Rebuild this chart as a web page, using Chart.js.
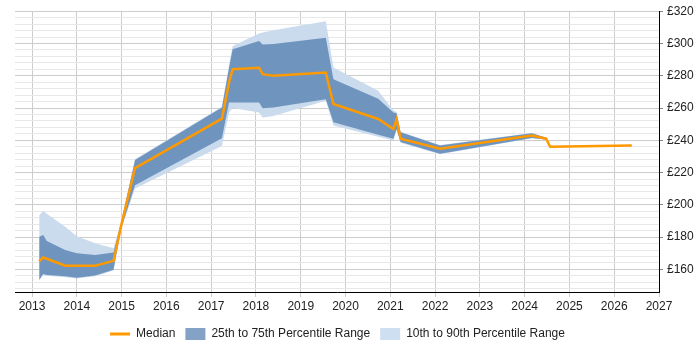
<!DOCTYPE html>
<html><head><meta charset="utf-8">
<script src="https://cdn.jsdelivr.net/npm/chart.js@4.4.0/dist/chart.umd.min.js"></script>
<style>html,body{margin:0;padding:0;background:#fff;}#wrap{width:700px;height:350px;}</style>
</head><body><div id="wrap"><canvas id="c" width="700" height="350"></canvas></div>
<script>
const dates  = [2013.16, 2013.25, 2013.33, 2013.74, 2014.00, 2014.41, 2014.82, 2014.99, 2015.30, 2017.24, 2017.40, 2017.48, 2018.07, 2018.15, 2018.39, 2019.56, 2019.73, 2020.73, 2021.07, 2021.14, 2021.23, 2022.11, 2024.16, 2024.48, 2024.57, 2026.39];
const median = [165.0, 167.4, 166.6, 162.3, 162.3, 162.3, 165.3, 187.0, 222.8, 253.4, 276.0, 284.0, 285.0, 281.0, 280.0, 282.0, 262.5, 253.2, 247.0, 253.0, 241.0, 234.8, 243.0, 241.0, 236.0, 236.8];
const p75    = [180.3, 181.3, 177.6, 172.1, 170.0, 169.0, 170.5, 189.0, 227.8, 260.4, 285.0, 296.4, 301.5, 299.4, 299.6, 303.5, 277.9, 265.8, 257.3, 256.7, 245.0, 236.8, 244.4, 241.6, 236.3, 237.1];
const p25    = [153.6, 157.1, 156.5, 155.7, 154.8, 156.3, 159.8, 185.5, 212.2, 241.3, 263.5, 263.5, 263.5, 259.8, 260.3, 265.5, 251.2, 243.5, 240.9, 247.0, 238.9, 231.6, 241.5, 240.5, 235.7, 236.5];
const p90    = [193.6, 196.2, 194.5, 186.5, 180.5, 176.2, 173.1, 189.5, 228.2, 260.8, 287.0, 298.4, 306.2, 306.8, 308.2, 313.8, 285.1, 270.7, 258.5, 257.5, 245.3, 237.1, 244.6, 241.8, 236.4, 237.2];
const p10    = [153.0, 156.5, 156.0, 155.2, 154.4, 155.8, 159.3, 184.5, 210.1, 236.4, 257.3, 260.0, 257.3, 254.2, 255.0, 264.5, 249.1, 242.2, 239.9, 246.5, 238.5, 231.3, 241.3, 240.3, 235.6, 236.4];
const xTickYears = [2013, 2014, 2015, 2016, 2017, 2018, 2019, 2020, 2021, 2022, 2023, 2024, 2025, 2026, 2027];
const yLabelValues = [160, 180, 200, 220, 240, 260, 280, 300, 320];
const yGridValues = [148, 152, 156, 160, 164, 168, 172, 176, 180, 184, 188, 192, 196, 200, 204, 208, 212, 216, 220, 224, 228, 232, 236, 240, 244, 248, 252, 256, 260, 264, 268, 272, 276, 280, 284, 288, 292, 296, 300, 304, 308, 312, 316, 320];
const seriesNames = ['Median', '25th to 75th Percentile Range', '10th to 90th Percentile Range'];

const pts = arr => arr.map((v, i) => ({x: dates[i], y: v}));
const C_MED = '#ff9900', C_DARK = '#6f95bf', C_LIGHT = '#cadbee';
const L_DARK = '#84a2c6', L_LIGHT = '#cddff0';

const shiftLegend = {
  id: 'shiftLegend',
  afterLayout(chart) {
    const lg = chart.legend;
    if (lg) { lg.left -= 20; lg.right -= 20; }
  }
};

new Chart(document.getElementById('c'), {
  type: 'line',
  plugins: [shiftLegend],
  data: {
    datasets: [
      {label: seriesNames[0], data: pts(median), borderColor: C_MED, borderWidth: 2.5, pointRadius: 0, fill: false, tension: 0},
      {label: seriesNames[1], data: pts(p75), borderWidth: 0, borderColor: 'rgba(0,0,0,0)', backgroundColor: C_DARK, pointRadius: 0, fill: '+1', tension: 0},
      {label: 'p25', data: pts(p25), borderWidth: 0, borderColor: 'rgba(0,0,0,0)', pointRadius: 0, fill: false, tension: 0},
      {label: seriesNames[2], data: pts(p90), borderWidth: 0, borderColor: 'rgba(0,0,0,0)', backgroundColor: C_LIGHT, pointRadius: 0, fill: '+1', tension: 0},
      {label: 'p10', data: pts(p10), borderWidth: 0, borderColor: 'rgba(0,0,0,0)', pointRadius: 0, fill: false, tension: 0}
    ]
  },
  options: {
    responsive: false,
    animation: false,
    devicePixelRatio: 1,
    layout: {padding: {left: 15, right: 0, top: 3, bottom: 0}},
    plugins: {
      tooltip: {enabled: false},
      legend: {
        position: 'bottom',
        labels: {
          usePointStyle: true, pointStyleWidth: 20, boxHeight: 12, padding: 10,
          color: '#222', font: {family: 'Liberation Sans, Arial, sans-serif', size: 12},
          generateLabels: () => [
            {text: seriesNames[0], pointStyle: 'line', strokeStyle: C_MED, fillStyle: C_MED, lineWidth: 3, datasetIndex: 0, fontColor: '#222'},
            {text: seriesNames[1], pointStyle: 'rect', strokeStyle: L_DARK, fillStyle: L_DARK, lineWidth: 0, datasetIndex: 1, fontColor: '#222'},
            {text: seriesNames[2], pointStyle: 'rect', strokeStyle: L_LIGHT, fillStyle: L_LIGHT, lineWidth: 0, datasetIndex: 3, fontColor: '#222'}
          ]
        }
      }
    },
    scales: {
      x: {
        type: 'linear', min: 2012.62, max: 2027,
        afterBuildTicks: s => { s.ticks = xTickYears.map(v => ({value: v})); },
        afterFit: s => { s.height = 26; },
        ticks: {autoSkip: false, maxRotation: 0, padding: 2, color: '#222', font: {family: 'Liberation Sans, Arial, sans-serif', size: 12}, callback: v => String(v)},
        grid: {color: '#cccccc', tickLength: 5, lineWidth: 1},
        border: {color: '#000', width: 1}
      },
      y: {
        type: 'linear', position: 'right', min: 146, max: 320,
        afterBuildTicks: s => { s.ticks = yGridValues.map(v => ({value: v})); },
        afterFit: s => { s.width = 41; },
        ticks: {autoSkip: false, padding: 4, color: '#222', font: {family: 'Liberation Sans, Arial, sans-serif', size: 12},
          callback: v => yLabelValues.includes(v) ? '£' + v : ''},
        grid: {
          color: c => (c.tick && c.tick.value % 20 === 0) ? '#cccccc' : '#e8e8e8',
          tickColor: c => (c.tick && c.tick.value % 20 === 0) ? '#888' : 'rgba(0,0,0,0)',
          tickLength: 4, lineWidth: 1
        },
        border: {color: '#000', width: 1}
      }
    }
  }
});
</script></body></html>
